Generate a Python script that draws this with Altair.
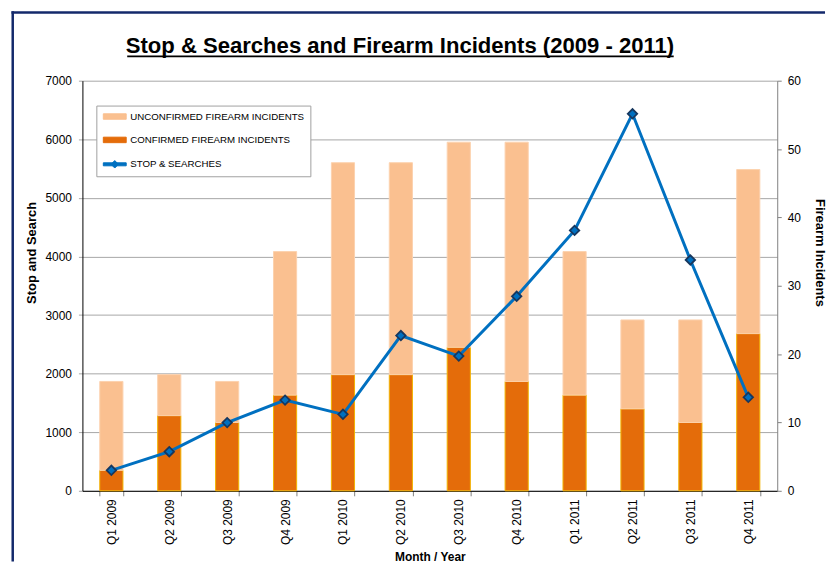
import altair as alt
import pandas as pd

quarters = ["Q1 2009", "Q2 2009", "Q3 2009", "Q4 2009",
            "Q1 2010", "Q2 2010", "Q3 2010", "Q4 2010",
            "Q1 2011", "Q2 2011", "Q3 2011", "Q4 2011"]
confirmed = [3, 11, 10, 14, 17, 17, 21, 16, 14, 12, 10, 23]
unconfirmed = [13, 6, 6, 21, 31, 31, 30, 35, 21, 13, 15, 24]
stop_searches = [350, 668, 1164, 1548, 1305, 2650, 2299, 3320, 4445, 6435, 3940, 1596]

TITLE = "Stop & Searches and Firearm Incidents (2009 - 2011)"
SER_UNC = "UNCONFIRMED FIREARM INCIDENTS"
SER_CON = "CONFIRMED FIREARM INCIDENTS"
SER_SS = "STOP & SEARCHES"
series_names = [SER_UNC, SER_CON, SER_SS]

FONT = "Liberation Sans"
NAVY = "#13296B"

bars_df = pd.DataFrame({
    "quarter": quarters * 2,
    "series": [SER_CON] * len(quarters) + [SER_UNC] * len(quarters),
    "value": confirmed + unconfirmed,
    "order": [0] * len(quarters) + [1] * len(quarters),
})
line_df = pd.DataFrame({"quarter": quarters, "series": SER_SS, "value": stop_searches})
legend_df = pd.DataFrame({"series": series_names})

color_scale = alt.Scale(domain=series_names, range=["#FAC090", "#E46C0A", "#0070C0"])
stroke_scale = alt.Scale(domain=series_names, range=["#FCD2AE", "#F2B300", "#0070C0"])
shape_scale = alt.Scale(domain=series_names, range=[
    "M-0.8,-0.55H3.8V0.55H-0.8Z",
    "M-0.8,-0.55H3.8V0.55H-0.8Z",
    "M-0.8,-0.3H3.8V0.3H-0.8Z M1.5,-0.75L2.25,0L1.5,0.75L0.75,0Z",
])

legend = alt.Legend(
    title=None, orient="none", legendX=14, legendY=25, direction="vertical",
    labelFont=FONT, labelFontSize=9.75, labelColor="#000", labelOffset=17.5, labelLimit=400,
    rowPadding=12.5, padding=5.5, strokeColor="#A0A0A0", fillColor="white",
    symbolSize=100, symbolStrokeWidth=1, symbolOpacity=1,
)

x_enc = alt.X(
    "quarter:N", sort=quarters,
    scale=alt.Scale(paddingInner=0.6, paddingOuter=0.3),
    axis=alt.Axis(title="Month / Year", labelAngle=270, labelFontSize=12, labelColor="#000",
                  tickBand="extent", tickSize=5, tickColor="#808080", domainColor="#000",
                  labelPadding=3, titleFontSize=12, titleFontWeight="bold", titleColor="#000",
                  titlePadding=7),
)

legend_layer = alt.Chart(legend_df).mark_point(filled=True, opacity=0).encode(
    color=alt.Color("series:N", scale=color_scale, legend=legend),
    stroke=alt.Stroke("series:N", scale=stroke_scale, legend=legend),
    shape=alt.Shape("series:N", scale=shape_scale, legend=legend),
)

bars = alt.Chart(bars_df).mark_bar(strokeWidth=1, opacity=1).encode(
    x=x_enc,
    y=alt.Y("value:Q", stack="zero", scale=alt.Scale(domain=[0, 60]),
            axis=alt.Axis(orient="right", values=list(range(0, 61, 10)), title="Firearm Incidents",
                          grid=False, domainColor="#808080", tickColor="#808080", tickSize=4,
                          labelPadding=6, labelFontSize=12, labelColor="#000",
                          titleFontSize=13, titleFontWeight="bold", titleColor="#000",
                          titleAngle=90, titleX=42, titleY=172.5, titleAlign="center",
                          titleBaseline="middle")),
    color=alt.Color("series:N", scale=color_scale),
    stroke=alt.Stroke("series:N", scale=stroke_scale),
    order=alt.Order("order:Q"),
)

y_line = alt.Y("value:Q", scale=alt.Scale(domain=[0, 7000]),
               axis=alt.Axis(orient="left", values=list(range(0, 7001, 1000)), format="d",
                             title="Stop and Search",
                             grid=True, gridColor="#A6A6A6", domainColor="#000", tickColor="#A6A6A6",
                             tickSize=4, labelPadding=7, labelFontSize=12, labelColor="#000",
                             titleFontSize=13, titleFontWeight="bold", titleColor="#000",
                             titleAngle=270, titleX=-51, titleY=172.5, titleAlign="center",
                             titleBaseline="middle"))

line = alt.Chart(line_df).mark_line(strokeWidth=3).encode(
    x=alt.X("quarter:N", sort=quarters),
    y=y_line,
    color=alt.Color("series:N", scale=color_scale),
)
points = alt.Chart(line_df).mark_point(shape="diamond", filled=True, fill="#0070C0", stroke="#17375E",
                                       strokeWidth=1.8, size=90, opacity=1).encode(
    x=alt.X("quarter:N", sort=quarters),
    y=alt.Y("value:Q", scale=alt.Scale(domain=[0, 7000])),
)

one = alt.Data(values=[{"title": TITLE}])
frame_top = alt.Chart(one).mark_rule(color=NAVY, strokeWidth=2.5).encode(
    x=alt.value(-71.25), x2=alt.value(746), y=alt.value(-68.5))
frame_left = alt.Chart(one).mark_rule(color=NAVY, strokeWidth=2.5).encode(
    x=alt.value(-70), y=alt.value(-69.75), y2=alt.value(483))
title_text = alt.Chart(one).mark_text(font=FONT, fontSize=22.2, fontWeight="bold", color="#000",
                                      align="center", baseline="alphabetic").encode(
    text="title:N", x=alt.value(319), y=alt.value(-27.5))
underline = alt.Chart(one).mark_rule(color="#000", strokeWidth=1.8).encode(
    x=alt.value(45), x2=alt.value(594), y=alt.value(-24.5))

chart = alt.layer(
    legend_layer, frame_top, frame_left, bars, alt.layer(line, points), title_text, underline
).resolve_scale(
    y="independent"
).properties(
    width=698, height=412,
    padding={"left": 1.75, "top": 0.75, "right": 0, "bottom": 0},
    background="white",
).configure_view(stroke=None).configure_axis(labelFont=FONT, titleFont=FONT)

chart.save("out.html", embed_options={"renderer": "svg", "actions": False})
